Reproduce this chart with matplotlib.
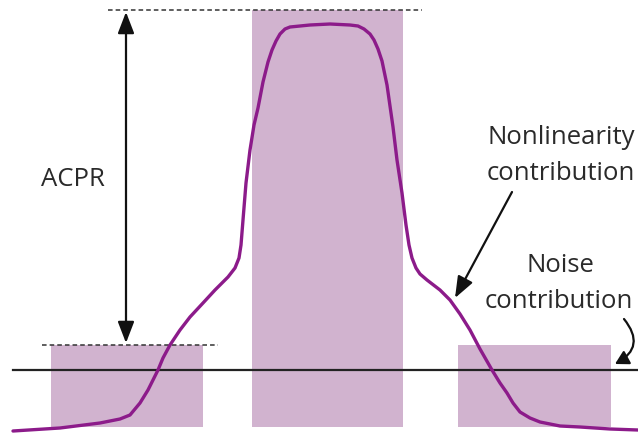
import matplotlib
matplotlib.use("Agg")
import matplotlib.pyplot as plt
from matplotlib.patches import FancyArrowPatch

# ---- data (abstract spectrum units: x = frequency, y = level, inverted) ----
bar_left = [51, 252, 458]
bar_right = [203, 403, 611]
bar_top = [345, 10, 345]
bar_bottom = 427

noise_floor = 370
noise_x = [13, 638]

curve_x = [13, 60, 100, 120, 130, 140, 148, 153, 158, 163, 170, 180, 190, 203, 215,
           228, 235, 239, 241, 243, 246, 250, 254, 258, 263, 268, 272, 276, 280, 285,
           290, 300, 310, 330, 350, 358, 364, 370, 374, 378, 382, 387, 393, 397, 402,
           406, 409, 412, 416, 420, 427, 440, 450, 460, 470, 480, 492, 500, 507, 513,
           520, 530, 540, 560, 580, 610, 638]
curve_y = [431, 428, 423, 419, 415, 403, 390, 380, 370, 358, 345, 330, 317, 303, 290,
           277, 268, 258, 245, 220, 183, 150, 125, 108, 82, 62, 50, 41, 34, 29,
           27, 26, 25, 24, 25, 26, 29, 34, 40, 49, 61, 85, 127, 160, 193,
           225, 245, 258, 268, 274, 280, 290, 300, 314, 330, 349, 370, 383, 393, 403,
           412, 418, 422, 426, 427, 429, 430]

acpr_x = 126
dash_top_x = [108, 422]
dash_low_x = [42, 218]

fig = plt.figure(figsize=(6.38, 4.33), dpi=100)
ax = fig.add_axes([0, 0, 1, 1])
ax.set_xlim(0, 638)
ax.set_ylim(433, 0)
ax.axis("off")

bar_color = "#D1B3CF"
for l, r, t in zip(bar_left, bar_right, bar_top):
    ax.bar(l, bar_bottom - t, width=r - l, bottom=t, align="edge",
           color=bar_color, edgecolor="none", zorder=1)

ax.plot(noise_x, [noise_floor, noise_floor], color="#222222", lw=1.6, zorder=2)

ax.plot(dash_top_x, [bar_top[1], bar_top[1]], color="#333333", lw=1.1,
        dashes=(3, 2), zorder=3)
ax.plot(dash_low_x, [bar_top[0], bar_top[0]], color="#333333", lw=1.1,
        dashes=(3, 2), zorder=3)

ax.plot(curve_x, curve_y, color="#8C1B8A", lw=2.4, solid_joinstyle="round",
        solid_capstyle="round", zorder=4)

# ACPR double arrow
ax.annotate("", xy=(acpr_x, bar_top[1] + 2), xytext=(acpr_x, bar_top[0] - 2),
            arrowprops=dict(arrowstyle="<|-|>,head_length=1.3,head_width=0.5",
                            color="#111111", lw=1.6, shrinkA=0, shrinkB=0))

font = "Open Sans"
tc = "#2a2a2a"
fs = 18.5
ax.text(73, 180, "ACPR", ha="center", va="center", fontsize=fs,
        family=font, color=tc)
ax.text(561, 138, "Nonlinearity", ha="center", va="center", fontsize=fs,
        family=font, color=tc)
ax.text(561, 173, "contribution", ha="center", va="center", fontsize=fs,
        family=font, color=tc)
ax.text(560, 265, "Noise", ha="center", va="center", fontsize=fs,
        family=font, color=tc)
ax.text(559, 301, "contribution", ha="center", va="center", fontsize=fs,
        family=font, color=tc)

# Nonlinearity arrow
ax.annotate("", xy=(455, 298), xytext=(512, 192),
            arrowprops=dict(arrowstyle="-|>,head_length=1.3,head_width=0.5",
                            color="#111111", lw=1.6, shrinkA=0, shrinkB=0))

# Noise curved arrow
arr = FancyArrowPatch((624, 319), (615, 364), connectionstyle="arc3,rad=-0.6",
                      arrowstyle="-|>,head_length=8,head_width=4.5",
                      color="#111111", lw=1.6, shrinkA=0, shrinkB=0, zorder=5)
ax.add_patch(arr)

fig.savefig("out.png", dpi=100)
